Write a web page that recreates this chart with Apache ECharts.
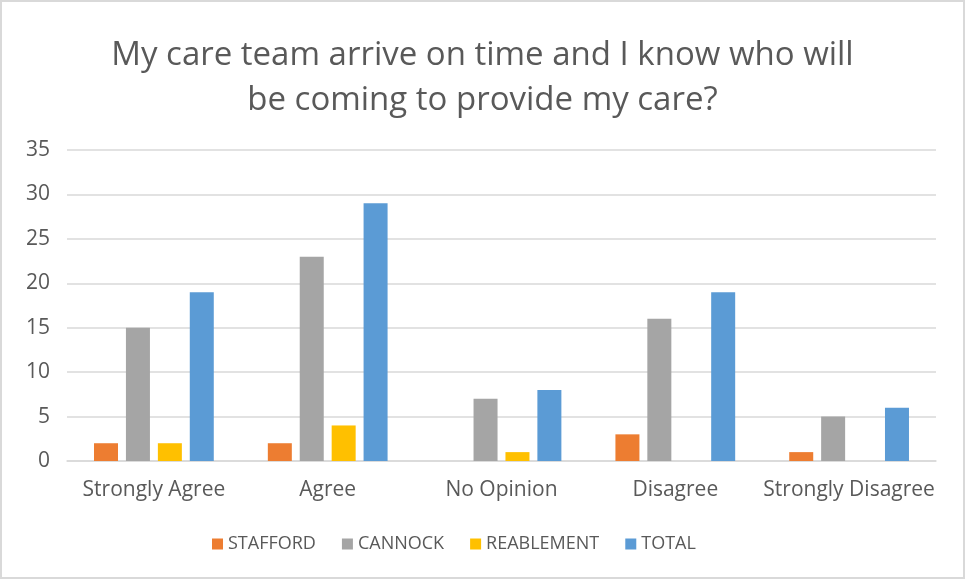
<!DOCTYPE html>
<html>
<head>
<meta charset="utf-8">
<script src="https://cdn.jsdelivr.net/npm/echarts@6/dist/echarts.min.js"></script>
<style>
  html, body { margin: 0; padding: 0; background: #fff; }
  #main { width: 961px; height: 575px; border: 2px solid #d9d9d9; }
</style>
</head>
<body>
<div id="main"></div>
<script>
var categories = ['Strongly Agree', 'Agree', 'No Opinion', 'Disagree', 'Strongly Disagree'];
var stafford = [2, 2, 0, 3, 1];
var cannock = [15, 23, 7, 16, 5];
var reablement = [2, 4, 1, 0, 0];
var total = [19, 29, 8, 19, 6];

var font = '"Open Sans", sans-serif';
var myChart = echarts.init(document.getElementById('main'));

function bar(name, data, color) {
  return {
    name: name,
    type: 'bar',
    data: data,
    barWidth: 24,
    barGap: '33%',
    itemStyle: { color: color }
  };
}

var option = {
  animation: false,
  textStyle: { fontFamily: font },
  title: {
    text: 'My care team arrive on time and I know who will\nbe coming to provide my care?',
    left: 'center',
    top: 26,
    textStyle: {
      color: '#595959',
      fontSize: 33,
      fontWeight: 'normal',
      fontFamily: font,
      lineHeight: 45
    }
  },
  legend: {
    bottom: 19,
    left: 205,
    itemWidth: 11,
    itemHeight: 11,
    itemGap: 26,
    icon: 'rect',
    textStyle: { color: '#595959', fontSize: 18, fontFamily: font },
    data: ['STAFFORD', 'CANNOCK', 'REABLEMENT', 'TOTAL']
  },
  grid: {
    left: 65,
    right: 27,
    top: 148,
    bottom: 116
  },
  xAxis: {
    type: 'category',
    data: categories,
    axisLine: { lineStyle: { color: '#d9d9d9', width: 1.5 } },
    axisTick: { show: false },
    axisLabel: { color: '#595959', fontSize: 21, margin: 19, interval: 0, fontFamily: font }
  },
  yAxis: {
    type: 'value',
    min: 0,
    max: 35,
    interval: 5,
    axisLine: { show: false },
    axisTick: { show: false },
    axisLabel: { color: '#595959', fontSize: 21, margin: 17, fontFamily: font },
    splitLine: { lineStyle: { color: '#d9d9d9', width: 1.5 } }
  },
  series: [
    bar('STAFFORD', stafford, '#ED7D31'),
    bar('CANNOCK', cannock, '#A5A5A5'),
    bar('REABLEMENT', reablement, '#FFC000'),
    bar('TOTAL', total, '#5B9BD5')
  ]
};
myChart.setOption(option);
</script>
</body>
</html>
